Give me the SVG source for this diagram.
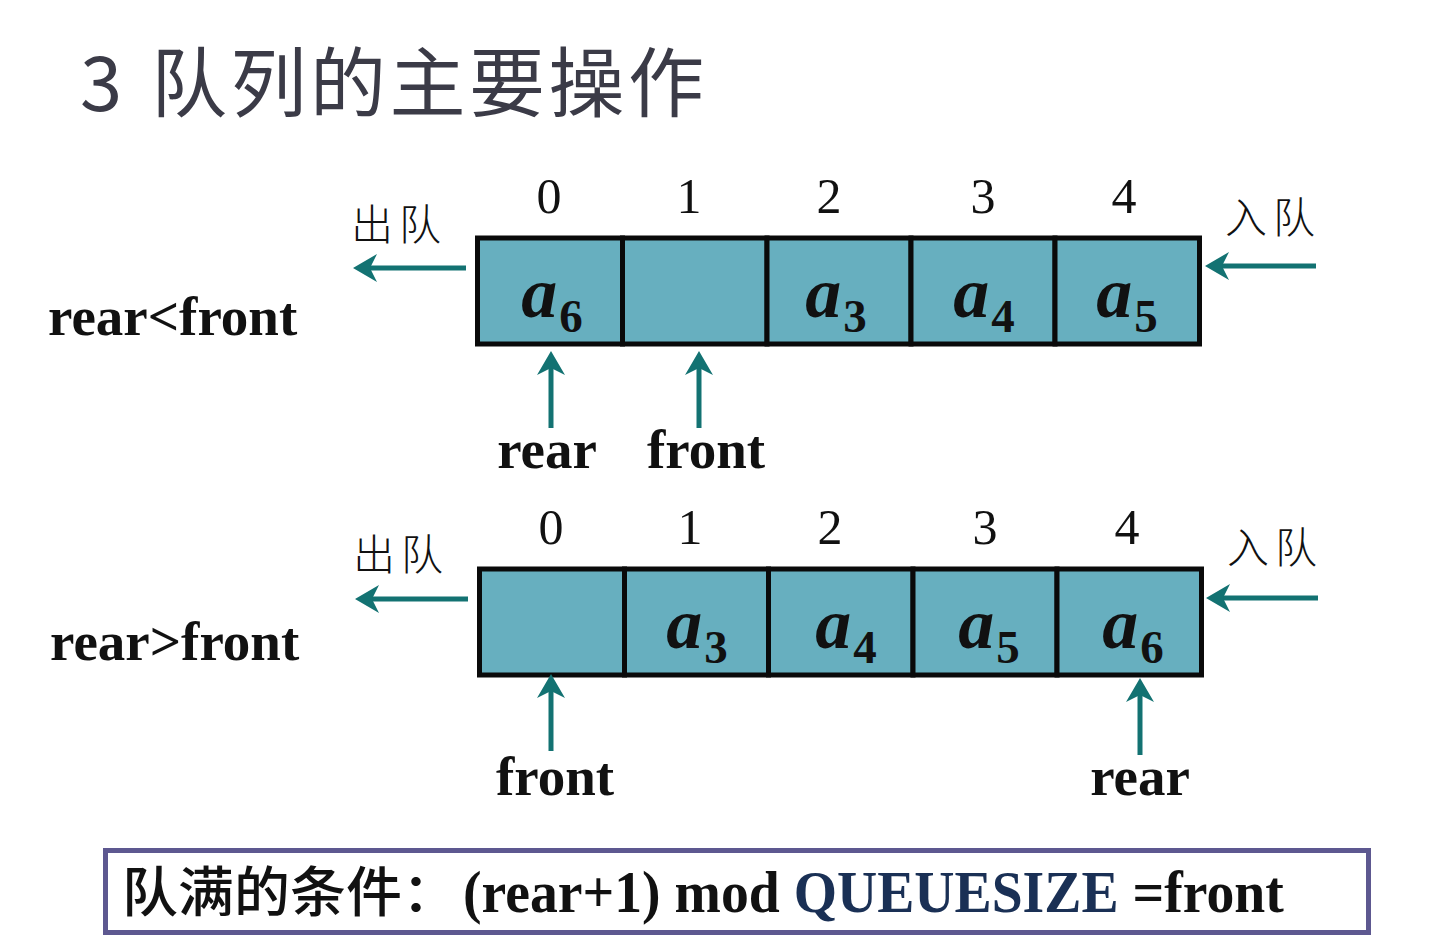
<svg xmlns="http://www.w3.org/2000/svg" width="1433" height="950" viewBox="0 0 1433 950">
<style>
.title{font-family:"Noto Sans CJK SC","Noto Sans",sans-serif;font-size:76px;fill:#3b3b47;}
.cell{fill:#67afbf;stroke:#0a0a0a;stroke-width:5;}
.idx{font-family:"Liberation Serif",serif;font-size:50px;fill:#111;text-anchor:middle;}
.cjk{font-family:"Noto Sans CJK SC",sans-serif;font-size:42px;fill:#111;letter-spacing:6px;font-weight:300;}
.lbl{font-family:"Liberation Serif",serif;font-size:55px;font-weight:bold;fill:#111;}
.ptr{font-family:"Liberation Serif",serif;font-size:55px;font-weight:bold;fill:#111;text-anchor:middle;}
.val{font-family:"Liberation Serif",serif;font-size:72px;font-weight:bold;font-style:italic;fill:#111;text-anchor:middle;}
.sub{font-size:47px;font-style:normal;}
.arr{stroke:#137272;stroke-width:5;fill:none;marker-end:url(#ah);}
</style>
<defs>
<marker id="ah" viewBox="0 0 24 28" refX="12" refY="14" markerWidth="24" markerHeight="28" markerUnits="userSpaceOnUse" orient="auto">
<path d="M24,14 L0,0 L7,14 L0,28 Z" fill="#137272"/>
</marker>
</defs>
<rect width="1433" height="950" fill="#ffffff"/>
<g id="title">
<text class="title" x="80" y="111">3</text>
<text class="title" x="151" y="111" letter-spacing="3.5">队列的主要操作</text>
</g>

<g id="label-lt"><text class="lbl" x="48" y="335">rear&lt;front</text></g>
<g id="label-gt"><text class="lbl" x="50" y="660">rear&gt;front</text></g>

<g id="queue1">
<rect class="cell" x="477.5" y="238" width="145" height="106"/>
<rect class="cell" x="622.5" y="238" width="144.5" height="106"/>
<rect class="cell" x="767" y="238" width="144" height="106"/>
<rect class="cell" x="911" y="238" width="144" height="106"/>
<rect class="cell" x="1055" y="238" width="144.5" height="106"/>
<text class="idx" x="549" y="213">0</text>
<text class="idx" x="689" y="213">1</text>
<text class="idx" x="829" y="213">2</text>
<text class="idx" x="983" y="213">3</text>
<text class="idx" x="1124" y="213">4</text>
<text class="val" x="552" y="317">a<tspan class="sub" dx="2" dy="15">6</tspan></text>
<text class="val" x="836" y="317">a<tspan class="sub" dx="2" dy="15">3</tspan></text>
<text class="val" x="984" y="317">a<tspan class="sub" dx="2" dy="15">4</tspan></text>
<text class="val" x="1127" y="317">a<tspan class="sub" dx="2" dy="15">5</tspan></text>
<text class="cjk" x="351" y="240">出队</text>
<text class="cjk" x="1225" y="233">入队</text>
<text class="ptr" x="547" y="468">rear</text>
<text class="ptr" x="706" y="468">front</text>
</g>

<g id="queue2">
<rect class="cell" x="479.5" y="569" width="145" height="106"/>
<rect class="cell" x="624.5" y="569" width="144" height="106"/>
<rect class="cell" x="768.5" y="569" width="144.5" height="106"/>
<rect class="cell" x="913" y="569" width="144" height="106"/>
<rect class="cell" x="1057" y="569" width="144.5" height="106"/>
<text class="idx" x="551" y="544">0</text>
<text class="idx" x="690" y="544">1</text>
<text class="idx" x="830" y="544">2</text>
<text class="idx" x="985" y="544">3</text>
<text class="idx" x="1127" y="544">4</text>
<text class="val" x="697" y="648">a<tspan class="sub" dx="2" dy="15">3</tspan></text>
<text class="val" x="846" y="648">a<tspan class="sub" dx="2" dy="15">4</tspan></text>
<text class="val" x="989" y="648">a<tspan class="sub" dx="2" dy="15">5</tspan></text>
<text class="val" x="1133" y="648">a<tspan class="sub" dx="2" dy="15">6</tspan></text>
<text class="cjk" x="353" y="570">出队</text>
<text class="cjk" x="1227" y="563">入队</text>
<text class="ptr" x="555" y="795">front</text>
<text class="ptr" x="1140" y="795">rear</text>
</g>

<g id="connectors">
<line class="arr" x1="466" y1="268" x2="365" y2="268"/>
<line class="arr" x1="1316" y1="266" x2="1217" y2="266"/>
<line class="arr" x1="551" y1="428" x2="551" y2="363"/>
<line class="arr" x1="699" y1="428" x2="699" y2="363"/>
<line class="arr" x1="468" y1="599" x2="367" y2="599"/>
<line class="arr" x1="1318" y1="598" x2="1218" y2="598"/>
<line class="arr" x1="551" y1="751" x2="551" y2="686"/>
<line class="arr" x1="1140" y1="755" x2="1140" y2="690"/>
</g>

<g id="condition">
<rect x="105.5" y="850.5" width="1263" height="82" fill="#ffffff" stroke="#5d5890" stroke-width="5"/>
<text x="122" y="912" font-family="'Noto Sans CJK SC',sans-serif" font-size="54" font-weight="500" fill="#111" textLength="336" lengthAdjust="spacingAndGlyphs">队满的条件：</text>
<g transform="translate(463,912) scale(0.928,1)">
<text x="0" y="0" font-family="'Liberation Serif',serif" font-size="60" font-weight="bold" fill="#111">(rear+1) mod <tspan fill="#1a3055">QUEUESIZE</tspan> =front</text>
</g>
</g>
</svg>
